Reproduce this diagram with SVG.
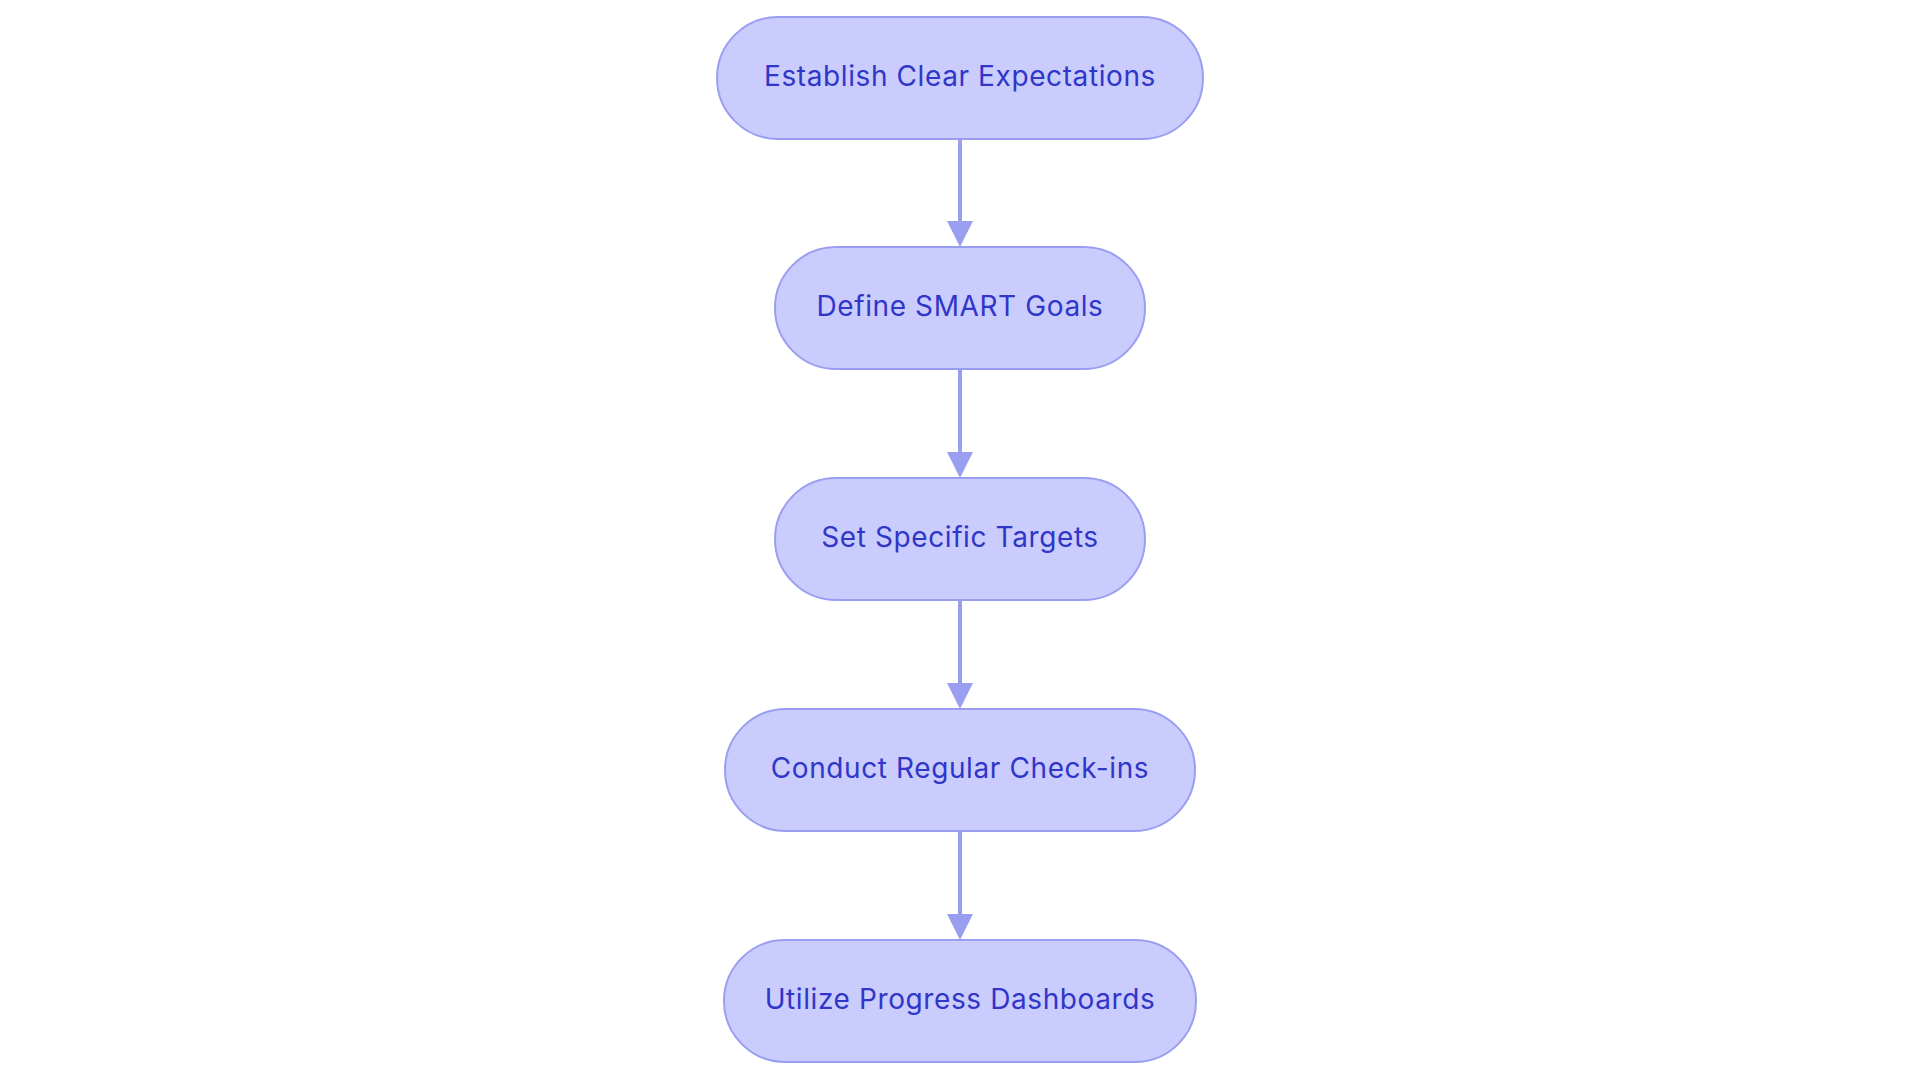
<svg xmlns="http://www.w3.org/2000/svg" width="1920" height="1083" viewBox="0 0 1920 1083">
<style>
.node rect{fill:#CACCFD;stroke:#9A9EF0;stroke-width:2}
.node text{font-family:Inter,"Noto Sans",sans-serif;font-size:28px;letter-spacing:0.6px;fill:#2F36C8;text-anchor:middle}
.edge{stroke:#9A9EF0;stroke-width:4;fill:none}
.head{fill:#9A9EF0}
</style>
<rect width="1920" height="1083" fill="#ffffff"/>
<g id="connectors">
<path class="edge" d="M960,139 V221"/>
<path class="head" d="M947,221 H973 L960,247 Z"/>
<path class="edge" d="M960,369 V452"/>
<path class="head" d="M947,452 H973 L960,478 Z"/>
<path class="edge" d="M960,600 V683"/>
<path class="head" d="M947,683 H973 L960,709 Z"/>
<path class="edge" d="M960,831 V914"/>
<path class="head" d="M947,914 H973 L960,940 Z"/>
</g>
<g id="n1" class="node">
<rect x="717" y="17" width="486" height="122" rx="61" ry="61"/>
<text x="960" y="86">Establish Clear Expectations</text>
</g>
<g id="n2" class="node">
<rect x="775" y="247" width="370" height="122" rx="61" ry="61"/>
<text x="960" y="316">Define SMART Goals</text>
</g>
<g id="n3" class="node">
<rect x="775" y="478" width="370" height="122" rx="61" ry="61"/>
<text x="960" y="547">Set Specific Targets</text>
</g>
<g id="n4" class="node">
<rect x="725" y="709" width="470" height="122" rx="61" ry="61"/>
<text x="960" y="778">Conduct Regular Check-ins</text>
</g>
<g id="n5" class="node">
<rect x="724" y="940" width="472" height="122" rx="61" ry="61"/>
<text x="960" y="1009">Utilize Progress Dashboards</text>
</g>
</svg>
